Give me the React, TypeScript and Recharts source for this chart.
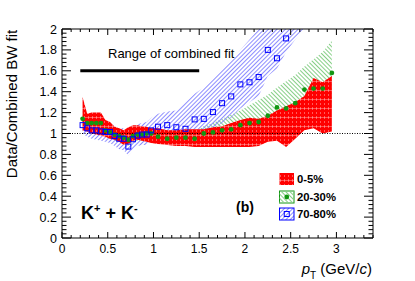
import React from 'react';
import { ComposedChart, Area, Line, XAxis, YAxis, ReferenceLine } from 'recharts';

// ---- data ----
const pT = [0.225, 0.275, 0.325, 0.375, 0.425, 0.475, 0.525, 0.575, 0.625, 0.675, 0.725, 0.775, 0.825, 0.875, 0.925, 0.975,
  1.05, 1.15, 1.25, 1.35, 1.45, 1.55, 1.65, 1.75, 1.85, 1.95, 2.05, 2.15, 2.25, 2.35, 2.45, 2.55, 2.65, 2.75, 2.85, 2.95];

const cent05Low = [1.03, 1.02, 1.0, 0.99, 0.98, 0.97, 0.95, 0.94, 0.92, 0.89, 0.9, 0.93, 0.94, 0.93, 0.92, 0.91,
  0.9, 0.89, 0.88, 0.88, 0.87, 0.87, 0.87, 0.87, 0.87, 0.87, 0.87, 0.88, 0.92, 0.93, 0.87, 0.95, 1.03, 1.05, 1.0, 1.02];
const cent05High = [1.35, 1.19, 1.2, 1.2, 1.2, 1.13, 1.11, 1.065, 1.05, 1.03, 1.06, 1.08, 1.08, 1.07, 1.065, 1.05,
  1.05, 1.03, 1.03, 1.04, 1.04, 1.04, 1.06, 1.07, 1.1, 1.13, 1.15, 1.14, 1.17, 1.22, 1.26, 1.3, 1.36, 1.53, 1.49, 1.55];

const cent2030 = [1.14, 1.1, 1.1, 1.1, 1.1, 1.03, 1.01, 0.99, 0.975, 0.96, 0.94, 0.975, 0.99, 0.99, 1.0, 1.0,
  0.97, 0.95, 0.96, 0.96, 0.95, 1.0, 1.01, 1.03, 1.04, 1.08, 1.1, 1.11, 1.17, 1.25, 1.24, 1.29, 1.42, 1.43, 1.43, 1.58];
const cent2030Low = [1.07, 1.03, 1.03, 1.03, 1.03, 0.96, 0.95, 0.93, 0.915, 0.9, 0.88, 0.915, 0.93, 0.93, 0.94, 0.94,
  0.91, 0.89, 0.9, 0.9, 0.89, 0.93, 0.93, 0.94, 0.94, 0.96, 0.97, 0.97, 1.01, 1.05, 1.03, 1.06, 1.15, 1.15, 1.13, 1.25];
const cent2030High = [1.21, 1.17, 1.17, 1.17, 1.17, 1.1, 1.07, 1.05, 1.035, 1.02, 1.0, 1.035, 1.05, 1.05, 1.06, 1.06,
  1.03, 1.01, 1.02, 1.02, 1.01, 1.07, 1.1, 1.14, 1.18, 1.22, 1.27, 1.32, 1.37, 1.44, 1.5, 1.56, 1.64, 1.71, 1.78, 1.89];

const cent7080 = [1.08, 1.05, 1.03, 1.03, 1.02, 1.015, 1.015, 0.975, 0.95, 0.95, 0.875, 0.945, 0.98, 0.99, 0.99, 1.03,
  1.065, 1.08, 1.06, 1.045, 1.135, 1.14, 1.205, 1.29, 1.355, 1.47, 1.49, 1.54, 1.8, 1.72, 1.91, 2.1, 2.2];
const cent7080Low = [1.0, 0.97, 0.95, 0.94, 0.93, 0.92, 0.91, 0.88, 0.85, 0.84, 0.79, 0.84, 0.88, 0.89, 0.89, 0.92,
  0.95, 0.95, 0.93, 0.93, 0.99, 1.0, 1.04, 1.1, 1.15, 1.24, 1.3, 1.36, 1.55, 1.62, 1.78, 1.9, 2.0];
const cent7080High = [1.16, 1.12, 1.11, 1.11, 1.1, 1.1, 1.11, 1.07, 1.05, 1.05, 0.96, 1.05, 1.09, 1.1, 1.11, 1.15,
  1.19, 1.21, 1.22, 1.3, 1.38, 1.44, 1.52, 1.62, 1.7, 1.8, 1.9, 2.0, 2.15, 2.2, 2.35, 2.45, 2.6];

const fitRange = [0.2, 1.5];
const fitRangeLevel = 1.6;

const xMajorLabels = ['0', '0.5', '1', '1.5', '2', '2.5', '3'];
const yMajorLabels = ['0', '0.2', '0.4', '0.6', '0.8', '1', '1.2', '1.4', '1.6', '1.8', '2'];
const xTicks = Array.from({ length: 35 }, (_, i) => i / 10);
const yTicks = Array.from({ length: 51 }, (_, i) => (i * 4) / 100);

const legendLabels = ['0-5%', '20-30%', '70-80%'];

const data = pT.map((x, i) => ({
  x,
  red: [cent05Low[i], cent05High[i]],
  greenBand: [cent2030Low[i], cent2030High[i]],
  green: cent2030[i],
  blueBand: i < cent7080.length ? [cent7080Low[i], cent7080High[i]] : undefined,
  blue: i < cent7080.length ? cent7080[i] : undefined,
}));

// ---- layout ----
const W = 415;
const H = 281;
const PL = 62;
const PR = 373;
const PTOP = 29;
const PB = 238;
const FONT = "'Liberation Sans', Arial, Helvetica, sans-serif";

const XTick = (props: any) => {
  const { x, payload } = props;
  const v = payload.value;
  const k = v * 2;
  const isMajor = Math.abs(k - Math.round(k)) < 1e-6;
  const len = isMajor ? 6 : 3;
  return (
    <g>
      <line x1={x} x2={x} y1={PB} y2={PB - len} stroke="#000" strokeWidth={1} />
      <line x1={x} x2={x} y1={PTOP} y2={PTOP + len} stroke="#000" strokeWidth={1} />
      {isMajor && xMajorLabels[Math.round(k)] !== undefined && (
        <text x={x} y={253} textAnchor="middle" fontSize={12} fontFamily={FONT} fill="#000">
          {xMajorLabels[Math.round(k)]}
        </text>
      )}
    </g>
  );
};

const YTick = (props: any) => {
  const { y, payload } = props;
  const v = payload.value;
  const k = v * 5;
  const isMajor = Math.abs(k - Math.round(k)) < 1e-6;
  const len = isMajor ? 9 : 4.5;
  return (
    <g>
      <line x1={PL} x2={PL + len} y1={y} y2={y} stroke="#000" strokeWidth={1} />
      <line x1={PR} x2={PR - len} y1={y} y2={y} stroke="#000" strokeWidth={1} />
      {isMajor && (
        <text x={57} y={y + 4.5} textAnchor="end" fontSize={12.5} fontFamily={FONT} fill="#000">
          {yMajorLabels[Math.round(k)]}
        </text>
      )}
    </g>
  );
};

const greenDot = (props: any) => {
  const { cx, cy, index } = props;
  if (cx == null || cy == null || isNaN(cy)) return <g key={`g${index}`} />;
  return <circle key={`g${index}`} cx={cx} cy={cy} r={2.4} fill="#129612" />;
};

const blueSquare = (props: any) => {
  const { cx, cy, index } = props;
  if (cx == null || cy == null || isNaN(cy)) return <g key={`b${index}`} />;
  return <rect key={`b${index}`} x={cx - 2.5} y={cy - 2.5} width={5} height={5} fill="none" stroke="#0000ff" strokeWidth={1} />;
};

const Patterns = ({ p }: { p: string }) => (
  <defs>
    <pattern id={`${p}red`} patternUnits="userSpaceOnUse" width={4} height={9}>
      <rect x={0} y={0} width={4} height={9} fill="#ff0000" />
      <line x1={0.5} y1={0} x2={0.5} y2={9} stroke="#ffffff" strokeOpacity={0.45} strokeWidth={0.8} strokeDasharray="2 2" />
      <line x1={0} y1={0.5} x2={4} y2={0.5} stroke="#ffffff" strokeOpacity={0.4} strokeWidth={0.8} />
    </pattern>
    <pattern id={`${p}green`} patternUnits="userSpaceOnUse" width={3} height={3} patternTransform="rotate(-45)">
      <line x1={0.5} y1={0} x2={0.5} y2={3} stroke="#86cf86" strokeWidth={1} />
    </pattern>
    <pattern id={`${p}blue`} patternUnits="userSpaceOnUse" width={3} height={3} patternTransform="rotate(45)">
      <line x1={0.5} y1={0} x2={0.5} y2={3} stroke="#8c8cff" strokeWidth={1} />
    </pattern>
  </defs>
);

export default function App() {
  return (
    <div style={{ position: 'absolute', left: 0, top: 0, width: W, height: H, background: '#fff' }}>
      <div style={{ position: 'absolute', left: 0, top: 0 }}>
        <ComposedChart width={W} height={H} data={data} margin={{ top: PTOP, right: W - PR, bottom: 0, left: 0 }}>
          <Patterns p="c" />
          <XAxis
            dataKey="x"
            type="number"
            domain={[0, 3.4]}
            ticks={xTicks}
            interval={0}
            allowDataOverflow
            height={H - PB}
            tickLine={false}
            tickSize={0}
            tickMargin={0}
            tick={<XTick />}
            axisLine={{ stroke: '#000', strokeWidth: 1 }}
          />
          <YAxis
            type="number"
            domain={[0, 2]}
            ticks={yTicks}
            interval={0}
            allowDataOverflow
            width={PL}
            tickLine={false}
            tickSize={0}
            tickMargin={0}
            tick={<YTick />}
            axisLine={{ stroke: '#000', strokeWidth: 1 }}
          />
          <ReferenceLine y={1} stroke="#000" strokeWidth={1} strokeDasharray="1 1.5" />
          <Area dataKey="greenBand" type="linear" stroke="none" fill="url(#cgreen)" fillOpacity={1} isAnimationActive={false} activeDot={false} dot={false} />
          <Area dataKey="blueBand" type="linear" stroke="none" fill="url(#cblue)" fillOpacity={1} isAnimationActive={false} activeDot={false} dot={false} />
          <Area dataKey="red" type="linear" stroke="none" fill="url(#cred)" fillOpacity={1} isAnimationActive={false} activeDot={false} dot={false} />
          <Line dataKey="green" stroke="none" dot={greenDot} activeDot={false} isAnimationActive={false} />
          <Line dataKey="blue" stroke="none" dot={blueSquare} activeDot={false} isAnimationActive={false} />
          <ReferenceLine
            segment={[{ x: fitRange[0], y: fitRangeLevel }, { x: fitRange[1], y: fitRangeLevel }]}
            stroke="#000"
            strokeWidth={3}
          />
          <ReferenceLine y={2} stroke="#000" strokeWidth={1} />
          <ReferenceLine x={3.4} stroke="#000" strokeWidth={1} />
        </ComposedChart>
      </div>
      <svg width={W} height={H} style={{ position: 'absolute', left: 0, top: 0, pointerEvents: 'none' }}>
        <Patterns p="o" />
        <text x={108} y={58} fontSize={13} fontFamily={FONT} fill="#000">Range of combined fit</text>
        <text x={81} y={219} fontSize={18} fontWeight="bold" fontFamily={FONT} fill="#000">
          K<tspan dy={-7} fontSize={11}>+</tspan>
          <tspan dy={7}> + K</tspan>
          <tspan dy={-7} fontSize={11}>-</tspan>
        </text>
        <text x={236} y={212} fontSize={14} fontWeight="bold" fontFamily={FONT} fill="#000">(b)</text>
        {/* legend */}
        <rect x={279.5} y={173} width={14.5} height={12} fill="url(#ored)" />
        <rect x={279.5} y={191} width={14.5} height={12} fill="#fff" stroke="#129612" strokeWidth={1} />
        <rect x={279.5} y={191} width={14.5} height={12} fill="url(#ogreen)" />
        <circle cx={286.75} cy={197} r={2.4} fill="#129612" />
        <rect x={279.5} y={208} width={14.5} height={12} fill="url(#oblue)" stroke="#0000ff" strokeWidth={1} />
        <rect x={284.25} y={211.5} width={5} height={5} fill="none" stroke="#0000ff" strokeWidth={1} />
        <text x={297} y={183} fontSize={11.3} fontWeight="bold" fontFamily={FONT} fill="#000">{legendLabels[0]}</text>
        <text x={297} y={201} fontSize={11.3} fontWeight="bold" fontFamily={FONT} fill="#000">{legendLabels[1]}</text>
        <text x={297} y={218} fontSize={11.3} fontWeight="bold" fontFamily={FONT} fill="#000">{legendLabels[2]}</text>
        {/* axis titles */}
        <text x={16.5} y={104} transform="rotate(-90 16.5 104)" textAnchor="middle" fontSize={15} fontFamily={FONT} fill="#000">
          Data/Combined BW fit
        </text>
        <text x={372} y={274} textAnchor="end" fontSize={15} fontFamily={FONT} fill="#000">
          <tspan fontStyle="italic">p</tspan>
          <tspan fontSize={10} dy={5}>T</tspan>
          <tspan dy={-5}> (GeV/</tspan>
          <tspan fontStyle="italic">c</tspan>
          <tspan>)</tspan>
        </text>
      </svg>
    </div>
  );
}
